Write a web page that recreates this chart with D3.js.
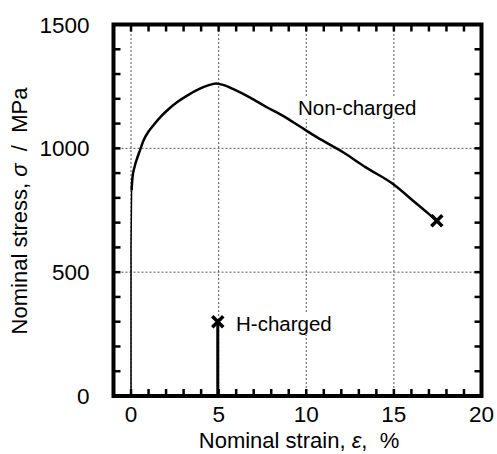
<!DOCTYPE html>
<html>
<head>
<meta charset="utf-8">
<script src="https://cdn.jsdelivr.net/npm/d3@7"></script>
<style>
  body { margin: 0; background: #fff; }
  text { font-family: "Liberation Sans", Arial, sans-serif; fill: #000; white-space: pre; }
</style>
</head>
<body>
<div id="chart"></div>
<script>
// elastic part (thin line) and plastic part of the non-charged curve
var elasticStrain = [0, 0, 0.03];
var elasticStress = [0, 600, 830];
var nonChargedStrain = [0.03, 0.08, 0.2, 0.35, 0.5, 0.7, 1.0, 1.3, 1.7, 2.2, 2.7, 3.3, 3.9, 4.4, 4.85, 5.3, 5.9, 6.8, 7.7, 8.7, 9.6, 10.6, 12.1, 13.4, 14.95, 16.3, 17.45];
var nonChargedStress = [830, 880, 925, 960, 990, 1030, 1068, 1095, 1128, 1162, 1190, 1217, 1240, 1254, 1262, 1255, 1237, 1205, 1168, 1130, 1090, 1045, 984, 923, 856, 776, 708];
var hChargedStrain = [4.95, 4.95];
var hChargedStress = [0, 300];

var xTicks = [0, 5, 10, 15, 20];
var yTicks = [0, 500, 1000, 1500];

var width = 497, height = 454;
var margin = {top: 24.5, right: 15.5, bottom: 58, left: 113.5};

var x = d3.scaleLinear().domain([-1, 20]).range([margin.left, width - margin.right]);
var y = d3.scaleLinear().domain([0, 1500]).range([height - margin.bottom, margin.top]);

var svg = d3.select("#chart").append("svg")
    .attr("width", width)
    .attr("height", height);

// dotted grid
svg.append("g").selectAll("line")
    .data([0, 5, 10, 15])
    .enter().append("line")
    .attr("x1", d => x(d)).attr("x2", d => x(d))
    .attr("y1", y(0)).attr("y2", y(1500))
    .attr("stroke", "#555").attr("stroke-width", 1)
    .attr("stroke-dasharray", "2,2");
svg.append("g").selectAll("line")
    .data([500, 1000])
    .enter().append("line")
    .attr("x1", x(-1)).attr("x2", x(20))
    .attr("y1", d => y(d)).attr("y2", d => y(d))
    .attr("stroke", "#555").attr("stroke-width", 1)
    .attr("stroke-dasharray", "2,2");

// minor ticks (inward, all four sides)
var xMinor = d3.range(0, 20, 1);
var yMinor = d3.range(100, 1500, 100);
var tk = 7;
var ticks = svg.append("g").attr("stroke", "#000").attr("stroke-width", 2.5);
xMinor.forEach(function(d) {
    ticks.append("line").attr("x1", x(d)).attr("x2", x(d)).attr("y1", y(0)).attr("y2", y(0) - tk);
    ticks.append("line").attr("x1", x(d)).attr("x2", x(d)).attr("y1", y(1500)).attr("y2", y(1500) + tk);
});
yMinor.forEach(function(d) {
    ticks.append("line").attr("y1", y(d)).attr("y2", y(d)).attr("x1", x(-1)).attr("x2", x(-1) + tk);
    ticks.append("line").attr("y1", y(d)).attr("y2", y(d)).attr("x1", x(20)).attr("x2", x(20) - tk);
});

// text labels with white boxes behind
function label(tx, ty, str) {
    var t = svg.append("text").attr("x", tx).attr("y", ty)
        .attr("font-size", 20.5).text(str);
    var b = t.node().getBBox();
    svg.insert("rect", "text")
        .attr("x", b.x - 2).attr("y", b.y)
        .attr("width", b.width + 4).attr("height", b.height)
        .attr("fill", "#fff");
    t.raise();
}
label(298, 115, "Non-charged");
label(236, 331, "H-charged");

// curves
var line = d3.line().x(d => x(d[0])).y(d => y(d[1]));
svg.append("path")
    .datum(d3.zip(elasticStrain, elasticStress))
    .attr("d", line).attr("fill", "none")
    .attr("stroke", "#000").attr("stroke-width", 1.5);
svg.append("path")
    .datum(d3.zip(nonChargedStrain, nonChargedStress))
    .attr("d", line.curve(d3.curveMonotoneX)).attr("fill", "none")
    .attr("stroke", "#000").attr("stroke-width", 2.5)
    .attr("stroke-linejoin", "round");
svg.append("path")
    .datum(d3.zip(hChargedStrain, hChargedStress))
    .attr("d", d3.line().x(d => x(d[0])).y(d => y(d[1]))).attr("fill", "none")
    .attr("stroke", "#000").attr("stroke-width", 3);

// fracture markers
var ends = [
    [nonChargedStrain[nonChargedStrain.length - 1], nonChargedStress[nonChargedStress.length - 1]],
    [hChargedStrain[1], hChargedStress[1]]
];
svg.append("g").selectAll("path")
    .data(ends)
    .enter().append("path")
    .attr("transform", d => "translate(" + x(d[0]) + "," + y(d[1]) + ")")
    .attr("d", "M-5.5,-5.5L5.5,5.5M-5.5,5.5L5.5,-5.5")
    .attr("stroke", "#000").attr("stroke-width", 3.5);

// frame
svg.append("rect")
    .attr("x", x(-1)).attr("y", y(1500))
    .attr("width", x(20) - x(-1)).attr("height", y(0) - y(1500))
    .attr("fill", "none").attr("stroke", "#000").attr("stroke-width", 4);

// tick labels
svg.append("g").selectAll("text")
    .data(xTicks)
    .enter().append("text")
    .attr("x", d => x(d)).attr("y", y(0) + 26)
    .attr("text-anchor", "middle").attr("font-size", 22.5)
    .text(d => d);
svg.append("g").selectAll("text")
    .data(yTicks)
    .enter().append("text")
    .attr("x", x(-1) - 24).attr("y", d => y(d))
    .attr("dy", "0.36em")
    .attr("text-anchor", "end").attr("font-size", 22.5)
    .text(d => d);

// axis titles
var xt = svg.append("text")
    .attr("x", 299).attr("y", 448)
    .attr("text-anchor", "middle").attr("font-size", 22);
xt.append("tspan").text("Nominal strain, ");
xt.append("tspan").attr("font-style", "italic").text("ε");
xt.append("tspan").text(",  %");

var yt = svg.append("text")
    .attr("transform", "translate(27,211) rotate(-90)")
    .attr("text-anchor", "middle").attr("font-size", 22);
yt.append("tspan").text("Nominal stress, ");
yt.append("tspan").attr("font-style", "italic").text("σ");
yt.append("tspan").text("  /  MPa");
</script>
</body>
</html>
